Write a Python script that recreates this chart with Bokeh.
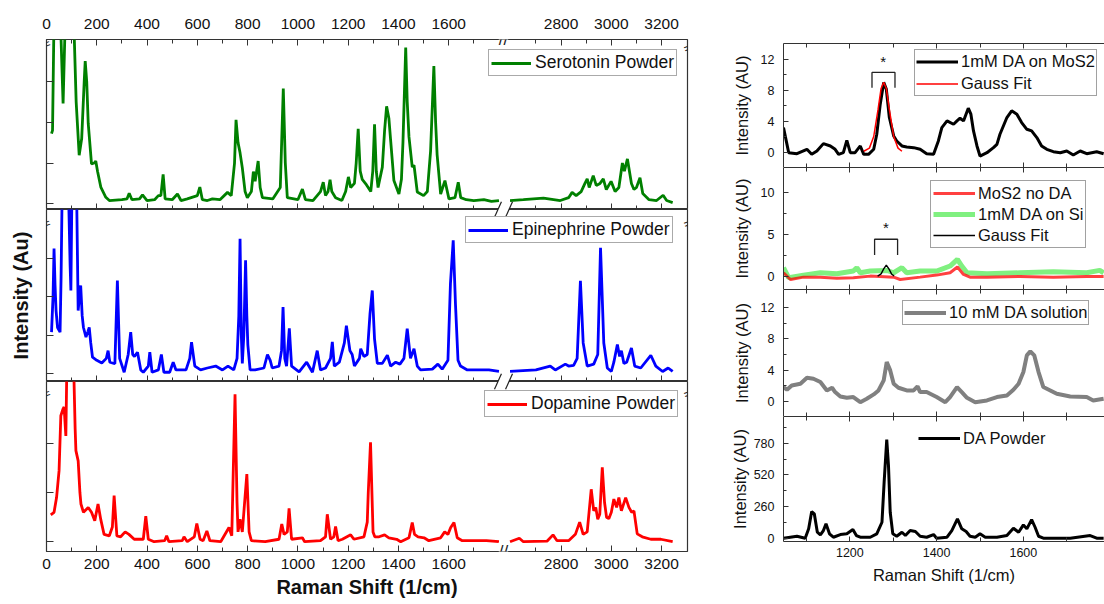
from bokeh.plotting import figure
from bokeh.models import (Range1d, FixedTicker, LinearAxis, CustomJSTickFormatter, Label,
                          Legend, LegendItem, CustomLabelingPolicy)
from bokeh.layouts import row, column
from bokeh.embed import file_html
from bokeh.resources import INLINE

FONT = "Liberation Sans"

# ---------------- left column: powder spectra (broken x axis) ----------------
GAP = 753      # width (1/cm) of the hidden part of the broken axis
BREAK = 1818   # plotted coordinate of the break

TOP_TICKS = [0, 200, 400, 600, 800, 1000, 1200, 1400, 1600, 2800, 3000, 3200]
TOP_MINOR = [100, 300, 500, 700, 900, 1100, 1300, 1500, 1700, 2700, 2900, 3100]

SER_X1 = [20, 24, 30, 45, 55, 66, 75, 90, 108, 118, 130, 140, 150, 154, 160, 166, 179, 190, 196, 203, 216, 236, 250, 300, 320, 329, 340, 370, 382, 400, 430, 445, 455, 464, 472, 500, 521, 535, 560, 600, 610, 620, 640, 660, 690, 720, 735, 748, 754, 762, 770, 779, 790, 799, 815, 823, 830, 842, 850, 859, 900, 930, 942, 950, 958, 1000, 1018, 1030, 1060, 1090, 1101, 1110, 1120, 1128, 1135, 1150, 1175, 1190, 1201, 1210, 1225, 1232, 1240, 1248, 1256, 1270, 1290, 1298, 1305, 1312, 1319, 1336, 1345, 1353, 1362, 1369, 1382, 1402, 1412, 1418, 1429, 1435, 1442, 1455, 1462, 1475, 1500, 1515, 1528, 1541, 1548, 1554, 1568, 1585, 1601, 1625, 1638, 1648, 1670, 1700, 1740, 1770, 1800]
SER_Y1 = [1.72, 1.8, 4.6, 5.5, 4.6, 2.46, 4.6, 6.0, 4.6, 2.5, 1.19, 1.6, 3.0, 3.5, 3.0, 1.97, 0.98, 1.0, 1.05, 0.8, 0.41, 0.16, 0.08, 0.1, 0.12, 0.26, 0.1, 0.12, 0.22, 0.08, 0.1, 0.2, 0.2, 0.72, 0.12, 0.1, 0.24, 0.08, 0.12, 0.2, 0.41, 0.1, 0.08, 0.12, 0.1, 0.28, 0.2, 1.0, 2.06, 1.5, 1.25, 0.88, 0.3, 0.15, 0.3, 0.79, 0.55, 1.05, 0.4, 0.15, 0.12, 0.4, 2.83, 1.0, 0.15, 0.1, 0.36, 0.1, 0.08, 0.3, 0.53, 0.2, 0.3, 0.59, 0.3, 0.15, 0.08, 0.3, 0.66, 0.4, 0.5, 1.0, 1.84, 0.8, 0.6, 0.49, 0.3, 0.8, 1.95, 0.8, 0.4, 0.9, 1.8, 2.39, 2.1, 1.56, 0.57, 0.24, 0.6, 1.5, 3.83, 2.5, 1.64, 0.9, 0.95, 0.29, 0.2, 0.3, 1.3, 3.38, 2.0, 1.2, 0.24, 0.57, 0.12, 0.15, 0.53, 0.15, 0.1, 0.08, 0.1, 0.06, 0.08]
SER_X2 = [2597, 2650, 2730, 2797, 2830, 2844, 2860, 2880, 2895, 2904, 2912, 2928, 2940, 2955, 2968, 2980, 2999, 3015, 3030, 3044, 3052, 3064, 3080, 3090, 3100, 3114, 3125, 3150, 3180, 3206, 3220, 3244]
SER_Y2 = [0.08, 0.1, 0.14, 0.08, 0.15, 0.28, 0.2, 0.3, 0.5, 0.61, 0.4, 0.69, 0.45, 0.5, 0.61, 0.35, 0.55, 0.3, 0.4, 1.0, 0.8, 1.1, 0.5, 0.35, 0.4, 0.64, 0.25, 0.1, 0.08, 0.21, 0.08, 0.03]

EPI_X1 = [20, 26, 30, 34, 38, 44, 54, 58, 62, 75, 88, 94, 97, 101, 112, 120, 126, 131, 136, 142, 147, 157, 165, 170, 176, 183, 200, 220, 238, 245, 252, 272, 282, 291, 309, 325, 335, 343, 350, 362, 375, 385, 405, 411, 420, 445, 457, 467, 490, 504, 515, 555, 570, 577, 590, 613, 640, 673, 700, 722, 745, 758, 765, 770, 775, 779, 785, 792, 797, 801, 810, 830, 865, 879, 890, 898, 925, 935, 941, 948, 955, 966, 975, 1005, 1035, 1058, 1077, 1090, 1110, 1130, 1137, 1145, 1165, 1185, 1193, 1207, 1216, 1225, 1245, 1250, 1263, 1276, 1287, 1296, 1305, 1316, 1336, 1356, 1369, 1389, 1406, 1422, 1435, 1448, 1462, 1475, 1488, 1535, 1557, 1574, 1597, 1607, 1618, 1627, 1637, 1647, 1674, 1720, 1760, 1800]
EPI_Y1 = [1.08, 2.0, 3.25, 2.3, 1.64, 1.2, 1.08, 2.5, 4.6, 5.5, 4.6, 2.8, 2.16, 4.6, 6.0, 4.6, 1.64, 2.0, 2.29, 1.5, 1.2, 0.95, 1.1, 1.2, 0.8, 0.43, 0.35, 0.28, 0.4, 0.6, 0.3, 0.26, 2.42, 0.4, 0.04, 0.5, 1.08, 0.5, 0.45, 0.56, 0.1, 0.04, 0.2, 0.56, 0.04, 0.1, 0.5, 0.04, 0.04, 0.3, 0.1, 0.1, 0.4, 0.82, 0.2, 0.1, 0.15, 0.2, 0.1, 0.2, 0.1, 0.4, 1.5, 3.5, 1.0, 0.27, 1.0, 2.94, 1.5, 0.75, 0.1, 0.1, 0.15, 0.5, 0.35, 0.15, 0.2, 0.6, 1.73, 0.4, 0.2, 1.18, 0.2, 0.05, 0.3, 0.04, 0.6, 0.1, 0.15, 0.4, 0.83, 0.2, 0.3, 0.8, 1.25, 0.6, 0.5, 0.2, 0.4, 0.65, 0.45, 0.5, 1.56, 2.16, 0.9, 0.27, 0.27, 0.48, 0.2, 0.3, 0.25, 0.4, 1.17, 0.4, 0.65, 0.2, 0.1, 0.12, 0.25, 0.12, 0.35, 2.34, 3.46, 1.8, 0.35, 0.2, 0.1, 0.1, 0.1, 0.06]
EPI_X2 = [2597, 2700, 2757, 2777, 2817, 2830, 2850, 2864, 2877, 2888, 2904, 2930, 2946, 2957, 2970, 2984, 3000, 3010, 3024, 3033, 3040, 3050, 3061, 3080, 3093, 3117, 3157, 3177, 3204, 3226, 3244]
EPI_Y2 = [0.06, 0.1, 0.2, 0.1, 0.25, 0.2, 0.22, 0.4, 2.41, 0.8, 0.2, 0.25, 0.5, 3.27, 0.8, 0.15, 0.06, 0.3, 0.76, 0.45, 0.6, 0.27, 0.3, 0.67, 0.2, 0.15, 0.48, 0.2, 0.06, 0.15, 0.06]

DOP_X1 = [17, 30, 40, 50, 57, 65, 70, 77, 81, 95, 108, 114, 117, 126, 133, 137, 147, 166, 179, 192, 205, 216, 229, 250, 262, 269, 280, 295, 313, 328, 349, 385, 395, 405, 428, 470, 478, 487, 540, 547, 560, 588, 598, 611, 623, 638, 650, 693, 726, 737, 750, 758, 762, 770, 779, 797, 806, 815, 870, 925, 936, 945, 958, 965, 975, 1018, 1027, 1090, 1110, 1117, 1130, 1143, 1150, 1160, 1177, 1210, 1223, 1263, 1276, 1280, 1289, 1299, 1306, 1323, 1345, 1362, 1393, 1409, 1442, 1455, 1464, 1478, 1502, 1521, 1568, 1584, 1597, 1608, 1621, 1634, 1654, 1750, 1800]
DOP_Y1 = [0.55, 0.6, 0.9, 1.45, 2.57, 2.7, 2.75, 2.16, 3.6, 4.5, 3.6, 2.3, 1.86, 1.65, 1.0, 0.77, 0.6, 0.7, 0.6, 0.43, 0.77, 0.45, 0.15, 0.12, 0.3, 0.94, 0.12, 0.1, 0.2, 0.15, 0.05, 0.05, 0.52, 0.05, 0.0, 0.02, 0.12, 0.0, 0.02, 0.1, 0.0, 0.1, 0.37, 0.05, 0.02, 0.22, 0.02, 0.0, 0.29, 0.12, 3.01, 0.8, 0.2, 0.46, 0.2, 1.38, 0.2, 0.02, 0.0, 0.05, 0.36, 0.15, 0.2, 0.68, 0.05, 0.08, 0.0, 0.02, 0.1, 0.56, 0.05, 0.1, 0.31, 0.02, 0.05, 0.14, 0.05, 0.1, 0.4, 1.0, 2.03, 0.2, 0.1, 0.1, 0.14, 0.08, 0.05, 0.0, 0.08, 0.39, 0.15, 0.1, 0.08, 0.02, 0.08, 0.2, 0.15, 0.29, 0.39, 0.08, 0.02, 0.02, 0.0]
DOP_X2 = [2597, 2634, 2650, 2744, 2768, 2784, 2830, 2857, 2874, 2888, 2904, 2920, 2930, 2938, 2946, 2954, 2964, 2973, 2981, 2990, 3000, 3010, 3021, 3030, 3040, 3057, 3070, 3081, 3090, 3103, 3123, 3157, 3197, 3244]
DOP_Y2 = [0.0, 0.07, 0.0, 0.01, 0.14, 0.02, 0.02, 0.15, 0.4, 0.15, 0.2, 1.07, 0.63, 0.7, 0.46, 0.56, 1.52, 0.8, 0.5, 0.47, 0.6, 0.87, 0.7, 0.9, 0.63, 0.9, 0.7, 0.6, 0.63, 0.16, 0.1, 0.05, 0.05, 0.0]

# ---------------- right column: DA on MoS2 (1040-1790 1/cm) ----------------
R_XTICKS = [1200, 1400, 1600]
R_XMINOR = [1100, 1300, 1500, 1700]

MOS_X = [1047, 1055, 1059, 1078, 1101, 1112, 1124, 1139, 1155, 1166, 1174, 1185, 1193, 1201, 1212, 1224, 1232, 1243, 1255, 1262, 1270, 1278, 1284, 1291, 1301, 1308, 1320, 1331, 1347, 1362, 1377, 1393, 1404, 1412, 1424, 1439, 1447, 1454, 1462, 1473, 1479, 1485, 1493, 1500, 1516, 1531, 1539, 1546, 1562, 1573, 1585, 1596, 1608, 1619, 1631, 1642, 1654, 1669, 1685, 1700, 1715, 1731, 1746, 1769, 1785]
MOS_Y = [3.15, 0.99, -0.09, -0.22, 0.35, -0.3, 0.13, 1.08, 0.78, 0.35, -0.3, -0.09, 1.51, -0.09, -0.09, 0.78, -0.3, -0.3, 0.35, 2.29, 6.17, 8.98, 8.11, 4.45, 2.07, 1.42, 0.78, 0.65, 0.56, 0.35, -0.22, -0.3, 1.42, 3.15, 4.01, 3.58, 4.01, 4.36, 4.01, 5.65, 4.88, 2.72, 0.78, -0.52, -0.09, 0.56, 0.99, 2.29, 4.45, 5.31, 4.88, 3.8, 2.93, 2.72, 1.86, 0.78, 0.35, 0.04, -0.09, 0.13, -0.39, 0.13, -0.22, 0.04, -0.22]
FIT1_X = [1232, 1245, 1255, 1265, 1272, 1278, 1284, 1291, 1301, 1311, 1320]
FIT1_Y = [0.1, 0.5, 2.0, 5.5, 8.2, 9.0, 8.2, 5.5, 2.0, 0.5, 0.1]
BR1_X = [1251, 1251, 1304, 1304]
BR1_Y = [8.3, 10.27, 10.27, 8.3]
STAR1 = (1277, 11.7)

NODA_X = [1047, 1063, 1093, 1132, 1170, 1208, 1247, 1301, 1316, 1362, 1400, 1431, 1448, 1462, 1477, 1516, 1592, 1669, 1746, 1785]
NODA_Y = [0.44, -0.36, -0.08, -0.08, -0.2, -0.16, 0.04, -0.08, -0.36, -0.08, 0.16, 0.44, 1.12, 0.24, -0.08, -0.08, 0.0, -0.08, 0.0, 0.0]
SI_X = [1047, 1059, 1093, 1132, 1170, 1208, 1216, 1224, 1247, 1285, 1301, 1320, 1331, 1362, 1400, 1431, 1448, 1458, 1470, 1516, 1592, 1669, 1746, 1776, 1785]
SI_Y = [1.04, -0.16, 0.16, 0.44, 0.32, 0.64, 1.04, 0.44, 0.64, 0.72, 0.44, 1.04, 0.44, 0.64, 0.64, 1.24, 2.03, 1.24, 0.44, 0.32, 0.44, 0.56, 0.44, 0.72, 0.44]
FIT2_X = [1264, 1272, 1278, 1284, 1290, 1296, 1302]
FIT2_Y = [0.05, 0.3, 0.9, 1.35, 0.9, 0.3, 0.05]
BR2_X = [1257, 1257, 1310, 1310]
BR2_Y = [2.55, 4.42, 4.42, 2.55]
STAR2 = (1283, 5.8)

SOL_X = [1047, 1055, 1066, 1086, 1101, 1116, 1132, 1147, 1159, 1166, 1178, 1193, 1208, 1224, 1239, 1255, 1266, 1278, 1285, 1293, 1301, 1312, 1331, 1347, 1356, 1362, 1377, 1400, 1420, 1431, 1447, 1458, 1470, 1489, 1516, 1539, 1562, 1577, 1589, 1600, 1608, 1616, 1625, 1635, 1646, 1662, 1677, 1708, 1746, 1761, 1785]
SOL_Y = [1.84, 1.49, 2.05, 2.26, 3.03, 2.9, 2.48, 1.41, 1.75, 1.2, 0.64, 0.47, 0.56, -0.09, 0.34, 0.9, 1.41, 2.69, 5.04, 3.97, 2.26, 1.75, 1.41, 1.41, 1.92, 1.2, 1.2, 0.56, -0.09, 0.56, 1.84, 1.2, 0.47, -0.09, 0.13, 0.56, 0.77, 1.49, 2.26, 3.76, 5.89, 6.4, 5.89, 3.76, 1.84, 1.41, 0.98, 0.64, 0.56, 0.13, 0.34]

POW_X = [1047, 1078, 1097, 1105, 1112, 1118, 1125, 1132, 1139, 1145, 1153, 1162, 1178, 1193, 1207, 1215, 1224, 1247, 1262, 1274, 1279, 1285, 1289, 1293, 1299, 1308, 1320, 1328, 1339, 1351, 1362, 1377, 1393, 1400, 1424, 1435, 1448, 1458, 1468, 1477, 1489, 1500, 1512, 1539, 1562, 1577, 1589, 1600, 1608, 1619, 1627, 1635, 1646, 1708, 1754, 1769, 1785]
POW_Y = [0, 16, 0, 77, 219, 200, 49, 27, 63, 118, 36, 8, 30, 36, 71, 22, 8, 8, 36, 131, 460, 810, 597, 213, 36, 16, 49, 22, 63, 55, 16, 8, 30, 0, 8, 63, 159, 77, 55, 16, 8, 36, 8, 8, 22, 82, 49, 109, 77, 153, 90, 16, 0, 0, 22, 0, 0]

AX = "#333333"
NO_LABELS = "return []"


def style_axis(ax, tick_in, minor_in, show_labels, font_size="15.5px", standoff=6):
    ax.axis_line_color = AX
    ax.major_tick_line_color = AX
    ax.minor_tick_line_color = AX
    ax.major_tick_in = tick_in
    ax.major_tick_out = 0
    ax.minor_tick_in = minor_in
    ax.minor_tick_out = 0
    ax.major_label_text_font = FONT
    ax.major_label_text_color = "#111111"
    if show_labels:
        ax.major_label_text_font_size = font_size
        ax.major_label_standoff = standoff
    else:
        ax.major_label_text_font_size = "0px"
        ax.major_label_standoff = 0
        ax.major_label_policy = CustomLabelingPolicy(code=NO_LABELS)


def left_ticker():
    major = [t if t < BREAK else t - GAP for t in TOP_TICKS]
    minor = [t if t < BREAK else t - GAP for t in TOP_MINOR]
    return FixedTicker(ticks=major, minor_ticks=minor)


def left_formatter():
    return CustomJSTickFormatter(code="return String(Math.round(tick > %d ? tick + %d : tick));" % (BREAK, GAP))


def outer_break(p, y):
    # "//" on an outer frame edge (fully inside the canvas border)
    p.add_layout(Label(x=BREAK, y=y, text="//", text_font=FONT, text_font_size="17px",
                       text_color="#222222", text_align="center", text_baseline="middle",
                       background_fill_color="white"))


def inner_break(p, y):
    # "//" on a frame edge shared by two stacked panels, drawn as marks in both panels
    p.scatter([BREAK], [y], marker="square", size=11, fill_color="white", line_color=None, level="overlay")
    p.scatter([BREAK - 22, BREAK + 22], [y, y], marker="dash", size=17, angle=1.15,
              line_color="#222222", line_width=1.2, level="overlay")


def ybreak(p, x, y):
    p.add_layout(Label(x=x, y=y, text="=", text_font=FONT, text_font_size="13px", angle=0.35,
                       text_color="#222222", text_align="center", text_baseline="middle"))


def make_left(h, yr, top, bottom, yticks, xs1, ys1, xs2, ys2, color, name, loc, top_axis, bottom_labels,
              ylabel=None):
    p = figure(width=700, height=h, x_range=Range1d(0, 2550), y_range=Range1d(*yr),
               output_backend="svg", toolbar_location=None,
               min_border_left=46, min_border_right=13, min_border_top=top, min_border_bottom=bottom)
    p.grid.visible = False
    p.outline_line_color = AX
    p.outline_line_width = 1.2
    xa = p.xaxis[0]
    xa.ticker = left_ticker()
    xa.formatter = left_formatter()
    style_axis(xa, 6, 4, bottom_labels, "15.5px", 7)
    xa.axis_line_color = None
    if bottom_labels:
        xa.axis_label = "Raman Shift (1/cm)"
        xa.axis_label_text_font = FONT
        xa.axis_label_text_font_style = "bold"
        xa.axis_label_text_font_size = "20px"
        xa.axis_label_text_color = "#111111"
        xa.axis_label_standoff = 4
    ya = p.yaxis[0]
    ya.ticker = FixedTicker(ticks=yticks, minor_ticks=[])
    style_axis(ya, 7, 0, False)
    ya.axis_line_color = None
    if ylabel:
        ya.axis_label = ylabel
        ya.axis_label_text_font = FONT
        ya.axis_label_text_font_style = "bold"
        ya.axis_label_text_font_size = "20px"
        ya.axis_label_text_color = "#111111"
        ya.axis_label_standoff = 15
    if top_axis:
        ta = LinearAxis(ticker=left_ticker(), formatter=left_formatter())
        style_axis(ta, 6, 4, True, "15.5px", 11)
        ta.axis_line_color = None
        p.add_layout(ta, "above")
    r1 = p.line(xs1, ys1, line_color=color, line_width=2.8)
    p.line([x - GAP for x in xs2], ys2, line_color=color, line_width=2.8)
    leg = Legend(items=[LegendItem(label=name, renderers=[r1])], location=loc,
                 label_text_font=FONT, label_text_font_size="17.5px", label_text_color="#111111",
                 glyph_width=40, glyph_height=20, label_height=20, label_standoff=4,
                 padding=2, spacing=0, margin=0, border_line_color="#555555", border_line_width=1)
    p.add_layout(leg)
    return p


L1 = make_left(209, (-0.14, 4.03), 39, 0, [0, 1, 2, 3], SER_X1, SER_Y1, SER_X2, SER_Y2,
               "#008000", "Serotonin Powder", (442, 133), True, False)
L2 = make_left(172, (-0.2, 4.26), 0, 0, [0, 1, 2, 3], EPI_X1, EPI_Y1, EPI_X2, EPI_Y2,
               "#0000FF", "Epinephrine Powder", (419, 138), False, False, ylabel="Intensity (Au)")
L3 = make_left(223, (-0.2, 3.27), 0, 53, [0, 1, 2], DOP_X1, DOP_Y1, DOP_X2, DOP_Y2,
               "#FF0000", "Dopamine Powder", (438, 134), False, True)
outer_break(L1, 4.03)
inner_break(L1, -0.14)
inner_break(L2, 4.26)
inner_break(L2, -0.2)
inner_break(L3, 3.27)
outer_break(L3, -0.2)
ybreak(L1, 0, 3.92)
ybreak(L1, 2550, 3.82)
ybreak(L2, 0, 3.9)
ybreak(L2, 2550, 3.9)
ybreak(L3, 0, 3.02)
ybreak(L3, 2550, 3.02)


def make_right(h, yr, top, bottom, yticks, yminor, show_x, ylab_standoff):
    p = figure(width=404, height=h, x_range=Range1d(1047, 1787), y_range=Range1d(*yr),
               output_backend="svg", toolbar_location=None,
               min_border_left=83, min_border_right=0, min_border_top=top, min_border_bottom=bottom)
    p.grid.visible = False
    p.outline_line_color = None
    xa = p.xaxis[0]
    xa.ticker = FixedTicker(ticks=R_XTICKS, minor_ticks=R_XMINOR)
    style_axis(xa, 5, 4, show_x, "12.5px", 6)
    if show_x:
        xa.axis_label = "Raman Shift (1/cm)"
        xa.axis_label_text_font = FONT
        xa.axis_label_text_font_style = "normal"
        xa.axis_label_text_font_size = "16.5px"
        xa.axis_label_text_color = "#111111"
        xa.axis_label_standoff = 6
    ta = LinearAxis(ticker=FixedTicker(ticks=R_XTICKS, minor_ticks=R_XMINOR))
    style_axis(ta, 5, 4, False)
    p.add_layout(ta, "above")
    ya = p.yaxis[0]
    ya.ticker = FixedTicker(ticks=yticks, minor_ticks=yminor)
    style_axis(ya, 5, 3, True, "12.5px", 9)
    ya.axis_label = "Intensity (AU)"
    ya.axis_label_text_font = FONT
    ya.axis_label_text_font_style = "normal"
    ya.axis_label_text_font_size = "16.5px"
    ya.axis_label_text_color = "#111111"
    ya.axis_label_standoff = ylab_standoff
    return p


def right_legend(p, items, loc, border=True, padding=1, height=21):
    leg = Legend(items=items, location=loc, label_text_font=FONT, label_text_font_size="16.5px",
                 label_text_color="#111111", glyph_width=42, glyph_height=height, label_height=height,
                 label_standoff=3, padding=padding, spacing=1, margin=0,
                 border_line_color="#444444" if border else None, border_line_width=1,
                 background_fill_alpha=0 if not border else 1)
    p.add_layout(leg)


R1 = make_right(167, (-2, 14), 43, 0, [0, 4, 8, 12], [2, 6, 10], False, 7)
a = R1.line(MOS_X, MOS_Y, line_color="black", line_width=3)
b = R1.line(FIT1_X, FIT1_Y, line_color="#FF0000", line_width=1.5)
R1.line(BR1_X, BR1_Y, line_color="#222222", line_width=1.3)
R1.text([STAR1[0]], [STAR1[1]], text=["*"], text_font_size="15px", text_align="center",
        text_baseline="middle", text_color="#111111")
right_legend(R1, [LegendItem(label="1mM DA on MoS2", renderers=[a]), LegendItem(label="Gauss Fit", renderers=[b])],
             (131, 71))

R2 = make_right(122, (-1.55, 12.95), 0, 0, [0, 5, 10], [2.5, 7.5], False, 7)
g = R2.line(SI_X, SI_Y, line_color="#80F080", line_width=5)
r = R2.line(NODA_X, NODA_Y, line_color="#FF0000", line_width=3, line_alpha=0.75)
k = R2.line(FIT2_X, FIT2_Y, line_color="black", line_width=1.4)
R2.line(BR2_X, BR2_Y, line_color="#222222", line_width=1.3)
R2.text([STAR2[0]], [STAR2[1]], text=["*"], text_font_size="15px", text_align="center",
        text_baseline="middle", text_color="#111111")
right_legend(R2, [LegendItem(label="MoS2 no DA", renderers=[r]), LegendItem(label="1mM DA on Si", renderers=[g]),
                  LegendItem(label="Gauss Fit", renderers=[k])], (147, 41), padding=2, height=20)

R3 = make_right(127, (-1.92, 14.3), 0, 0, [0, 4, 8, 12], [2, 6, 10], False, 7)
s = R3.line(SOL_X, SOL_Y, line_color="#808080", line_width=4)
right_legend(R3, [LegendItem(label="10 mM DA solution", renderers=[s])], (119, 91))

R4 = make_right(188, (-27, 999), 0, 63, [0, 260, 520, 780], [130, 390, 650, 910], True, 2)
w = R4.line(POW_X, POW_Y, line_color="black", line_width=3)
right_legend(R4, [LegendItem(label="DA Powder", renderers=[w])], (135, 93), border=False, padding=0, height=20)

layout = row(column(L1, L2, L3), column(R1, R2, R3, R4))
open("out.html", "w").write(file_html(layout, INLINE))
